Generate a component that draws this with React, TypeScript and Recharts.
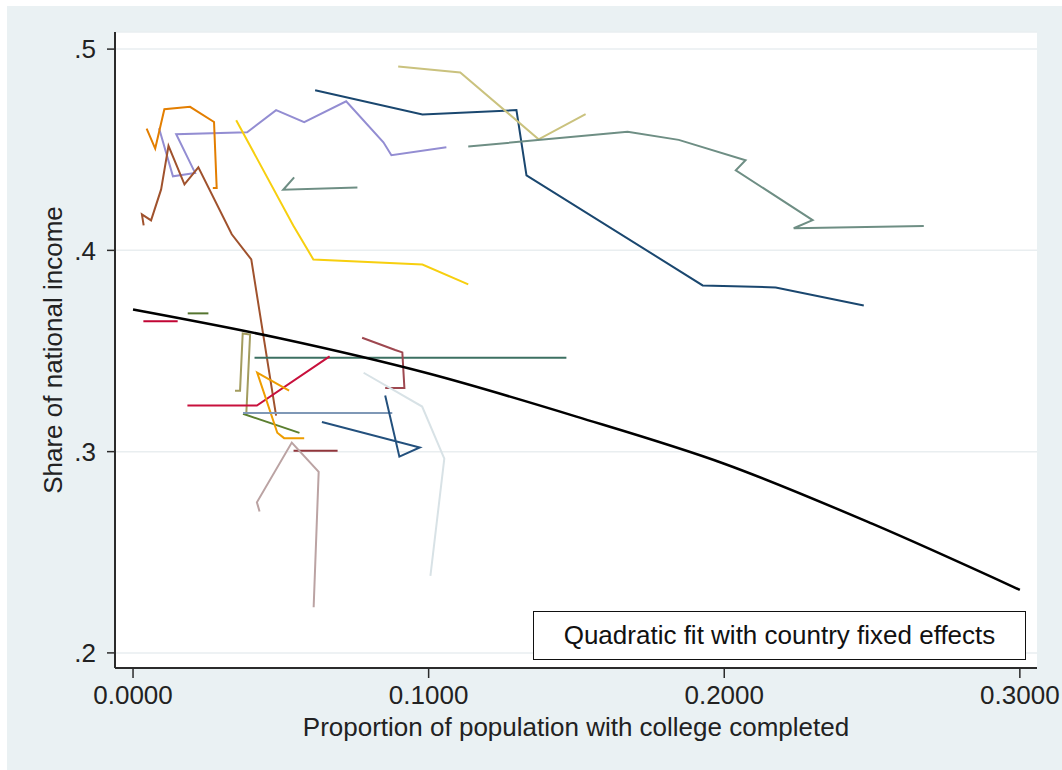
import React from 'react';
import {
  LineChart,
  Line,
  XAxis,
  YAxis,
  CartesianGrid,
  Legend,
} from 'recharts';

// country paths: [college share, income share]
const navyA = [[0.0616, 0.4796], [0.0979, 0.4675], [0.1297, 0.4697], [0.1331, 0.4373], [0.1927, 0.3826], [0.2174, 0.3816], [0.2472, 0.3726]];
const khakiA = [[0.0897, 0.4914], [0.1107, 0.4884], [0.1372, 0.4552], [0.1531, 0.4677]];
const tealA = [[0.1134, 0.4516], [0.1673, 0.4589], [0.1846, 0.4549], [0.2072, 0.4448], [0.2039, 0.4398], [0.2299, 0.415], [0.2235, 0.411], [0.2675, 0.4121]];
const lavender = [[0.0088, 0.4607], [0.0135, 0.4368], [0.021, 0.4385], [0.0146, 0.4577], [0.0386, 0.4587], [0.0484, 0.4697], [0.0579, 0.4637], [0.0721, 0.4741], [0.0847, 0.4537], [0.0874, 0.4473], [0.106, 0.4512]];
const orangeA = [[0.0046, 0.4605], [0.0075, 0.4506], [0.0106, 0.4701], [0.0193, 0.4713], [0.0274, 0.4638], [0.0283, 0.431], [0.027, 0.431]];
const sienna = [[0.0036, 0.4124], [0.003, 0.4179], [0.0061, 0.4149], [0.0095, 0.4303], [0.012, 0.4519], [0.0174, 0.4328], [0.0221, 0.4413], [0.0334, 0.408], [0.04, 0.3955], [0.0484, 0.3179]];
const gold = [[0.0349, 0.4647], [0.0542, 0.4124], [0.061, 0.3955], [0.0979, 0.393], [0.1134, 0.3831]];
const tealB = [[0.0759, 0.4313], [0.0508, 0.4301], [0.0545, 0.4363]];
const cranberryA = [[0.0035, 0.3648], [0.0151, 0.3648]];
const forestA = [[0.0185, 0.3687], [0.0255, 0.3687]];
const oliveA = [[0.0345, 0.3303], [0.0362, 0.3303], [0.0371, 0.3587], [0.0396, 0.3582], [0.0383, 0.3184]];
const forestB = [[0.0372, 0.3188], [0.0563, 0.3093]];
const tealC = [[0.0411, 0.3466], [0.1466, 0.3466]];
const cranberryB = [[0.0184, 0.3229], [0.0419, 0.3229], [0.0665, 0.3473]];
const orangeB = [[0.0528, 0.3303], [0.042, 0.3393], [0.0488, 0.3094], [0.0511, 0.3067], [0.0579, 0.3067]];
const slate = [[0.0372, 0.3192], [0.0877, 0.3192]];
const maroonA = [[0.0543, 0.3005], [0.0692, 0.3005]];
const maroonB = [[0.0775, 0.3566], [0.0887, 0.3505], [0.0911, 0.3493], [0.0918, 0.3316], [0.0853, 0.3316]];
const navyB = [[0.0639, 0.3147], [0.097, 0.3021], [0.0901, 0.2975], [0.0853, 0.3279]];
const bluishgray = [[0.078, 0.3392], [0.0978, 0.3224], [0.1053, 0.2965], [0.1006, 0.2383]];
const erose = [[0.0428, 0.2703], [0.0419, 0.2748], [0.0537, 0.3045], [0.0628, 0.29], [0.0611, 0.2227]];

// quadratic fit
const fitX = [0, 0.05, 0.1, 0.15, 0.2, 0.25, 0.3];
const fitY = [0.3706, 0.3562, 0.3388, 0.3174, 0.294, 0.2642, 0.2313];

const xTicks = [0, 0.1, 0.2, 0.3];
const yTicks = [0.2, 0.3, 0.4, 0.5];

const countries = [
  { key: 'navyA', pts: navyA, color: '#1a476f' },
  { key: 'khakiA', pts: khakiA, color: '#cac27e' },
  { key: 'tealA', pts: tealA, color: '#6e8e84' },
  { key: 'lavender', pts: lavender, color: '#938dd2' },
  { key: 'orangeA', pts: orangeA, color: '#e37e00' },
  { key: 'sienna', pts: sienna, color: '#a0522d' },
  { key: 'gold', pts: gold, color: '#f7cf0f' },
  { key: 'tealB', pts: tealB, color: '#6e8e84' },
  { key: 'cranberryA', pts: cranberryA, color: '#c10534' },
  { key: 'forestA', pts: forestA, color: '#55752f' },
  { key: 'oliveA', pts: oliveA, color: '#a39c5e' },
  { key: 'forestB', pts: forestB, color: '#5b7f30' },
  { key: 'tealC', pts: tealC, color: '#3c7062' },
  { key: 'cranberryB', pts: cranberryB, color: '#c8103c' },
  { key: 'orangeB', pts: orangeB, color: '#ee9d00' },
  { key: 'slate', pts: slate, color: '#7f98b6' },
  { key: 'maroonA', pts: maroonA, color: '#90353b' },
  { key: 'maroonB', pts: maroonB, color: '#9e4850' },
  { key: 'navyB', pts: navyB, color: '#23507d' },
  { key: 'bluishgray', pts: bluishgray, color: '#d8e2e6' },
  { key: 'erose', pts: erose, color: '#bba3a3' },
];

const fitData = fitX.map((x, i) => ({ x, y: fitY[i] }));
const font = '"Liberation Sans", Arial, sans-serif';

function LegendBox() {
  return (
    <div
      style={{
        width: 493,
        height: 49,
        boxSizing: 'border-box',
        border: '1.5px solid #111',
        background: '#fff',
        display: 'flex',
        alignItems: 'center',
        justifyContent: 'center',
        fontFamily: font,
        fontSize: 26,
        color: '#111',
      }}
    >
      Quadratic fit with country fixed effects
    </div>
  );
}

export default function App() {
  return (
    <div
      style={{
        position: 'absolute',
        left: 7,
        top: 6,
        width: 1055,
        height: 764,
        background: '#eaf1f3',
      }}
    >
      <LineChart
        width={1055}
        height={764}
        margin={{ top: 26, right: 25, bottom: 0, left: 0 }}
        style={{ fontFamily: font }}
      >
        <CartesianGrid
          vertical={false}
          fill="#ffffff"
          stroke="#e9eef0"
          strokeWidth={1.5}
        />
        <XAxis
          type="number"
          dataKey="x"
          domain={[-0.0061, 0.3058]}
          allowDataOverflow
          ticks={xTicks}
          tickFormatter={(v) => v.toFixed(4)}
          height={102}
          tickSize={10}
          tickMargin={8}
          axisLine={{ stroke: '#2b2b2b', strokeWidth: 2 }}
          tickLine={{ stroke: '#2b2b2b', strokeWidth: 1.5 }}
          tick={{ fontSize: 26, fill: '#222' }}
          label={{
            value: 'Proportion of population with college completed',
            position: 'insideBottom',
            offset: 34,
            fontSize: 26,
            fill: '#222',
          }}
        />
        <YAxis
          type="number"
          dataKey="y"
          domain={[0.1925, 0.5085]}
          allowDataOverflow
          ticks={yTicks}
          tickFormatter={(v) => '.' + Math.round(v * 10)}
          width={108}
          tickSize={8}
          tickMargin={11}
          axisLine={{ stroke: '#2b2b2b', strokeWidth: 2 }}
          tickLine={{ stroke: '#2b2b2b', strokeWidth: 1.5 }}
          tick={{ fontSize: 26, fill: '#222' }}
          label={{
            content: () => (
              <text
                x={55}
                y={344}
                transform="rotate(-90 55 344)"
                textAnchor="middle"
                fontSize={26}
                fill="#222"
              >
                Share of national income
              </text>
            ),
          }}
        />
        {countries.map((c) => (
          <Line
            key={c.key}
            data={c.pts.map(([x, y]) => ({ x, y }))}
            dataKey="y"
            type="linear"
            stroke={c.color}
            strokeWidth={2}
            dot={false}
            activeDot={false}
            legendType="none"
            isAnimationActive={false}
          />
        ))}
        <Line
          data={fitData}
          dataKey="y"
          name="Quadratic fit with country fixed effects"
          type="monotone"
          stroke="#000"
          strokeWidth={2.5}
          dot={false}
          activeDot={false}
          isAnimationActive={false}
        />
        <Legend
          layout="vertical"
          align="center"
          verticalAlign="middle"
          content={() => <LegendBox />}
          wrapperStyle={{ left: 526, top: 605, width: 493, height: 49 }}
        />
      </LineChart>
    </div>
  );
}
